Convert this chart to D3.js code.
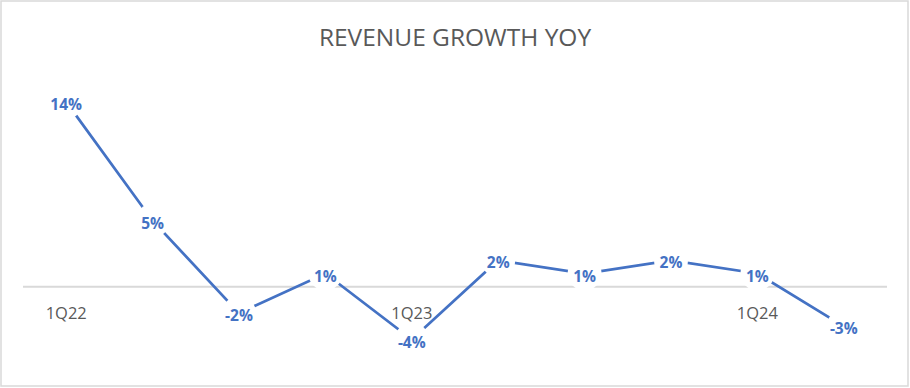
<!DOCTYPE html>
<html>
<head>
<meta charset="utf-8">
<script src="https://cdn.jsdelivr.net/npm/d3@7"></script>
<style>
  body { margin: 0; background: #fff; }
  svg { display: block; }
</style>
</head>
<body>
<div id="chart"></div>
<script>
// data
const quarters = ["1Q22", "2Q22", "3Q22", "4Q22", "1Q23", "2Q23", "3Q23", "4Q23", "1Q24", "2Q24"];
const growth   = [14, 5, -2, 1, -4, 2, 1, 2, 1, -3];
const tickLabels = ["1Q22", "1Q23", "1Q24"];
const title = "REVENUE GROWTH YOY";

const W = 910, H = 388;
const blue = "#4472C4", grey = "#595959", light = "#d9d9d9";

const svg = d3.select("#chart").append("svg")
    .attr("width", W).attr("height", H);

// chart frame
svg.append("rect")
    .attr("x", 1).attr("y", 1).attr("width", 907).attr("height", 385)
    .attr("fill", "#fff").attr("stroke", light).attr("stroke-width", 1.5);

svg.append("text")
    .attr("x", 455).attr("y", 46)
    .attr("text-anchor", "middle")
    .attr("fill", grey)
    .style("font-family", "'Open Sans', sans-serif")
    .style("font-size", "24.5px")
    .text(title);

const x = d3.scaleBand().domain(quarters).range([23, 887]);
const y = d3.scaleLinear().domain([-5, 15]).range([352.7, 88.7]);
const cx = d => x(d) + x.bandwidth() / 2;

// zero line (category axis)
svg.append("line")
    .attr("x1", 23).attr("x2", 887)
    .attr("y1", y(0)).attr("y2", y(0))
    .attr("stroke", light).attr("stroke-width", 2);

// category labels, only every 4th quarter
svg.append("g").selectAll("text")
    .data(tickLabels)
    .join("text")
    .attr("x", d => cx(d))
    .attr("y", y(0) + 32.5)
    .attr("text-anchor", "middle")
    .attr("fill", grey)
    .style("font-family", "'Open Sans', sans-serif")
    .style("font-size", "16.5px")
    .text(d => d);

const pts = quarters.map((q, i) => ({ q: q, v: growth[i] }));

svg.append("path")
    .datum(pts)
    .attr("fill", "none")
    .attr("stroke", blue)
    .attr("stroke-width", 2.75)
    .attr("d", d3.line().x(d => cx(d.q)).y(d => y(d.v)));

// white markers hide the line around each label
svg.append("g").selectAll("circle")
    .data(pts)
    .join("circle")
    .attr("cx", d => cx(d.q))
    .attr("cy", d => y(d.v))
    .attr("r", 17)
    .attr("fill", "#fff");

svg.append("g").selectAll("text")
    .data(pts)
    .join("text")
    .attr("x", d => cx(d.q))
    .attr("y", d => y(d.v) + 8)
    .attr("text-anchor", "middle")
    .attr("fill", blue)
    .style("font-family", "'Open Sans', sans-serif")
    .style("font-size", "15.5px")
    .style("font-weight", "bold")
    .text(d => d.v + "%");
</script>
</body>
</html>
